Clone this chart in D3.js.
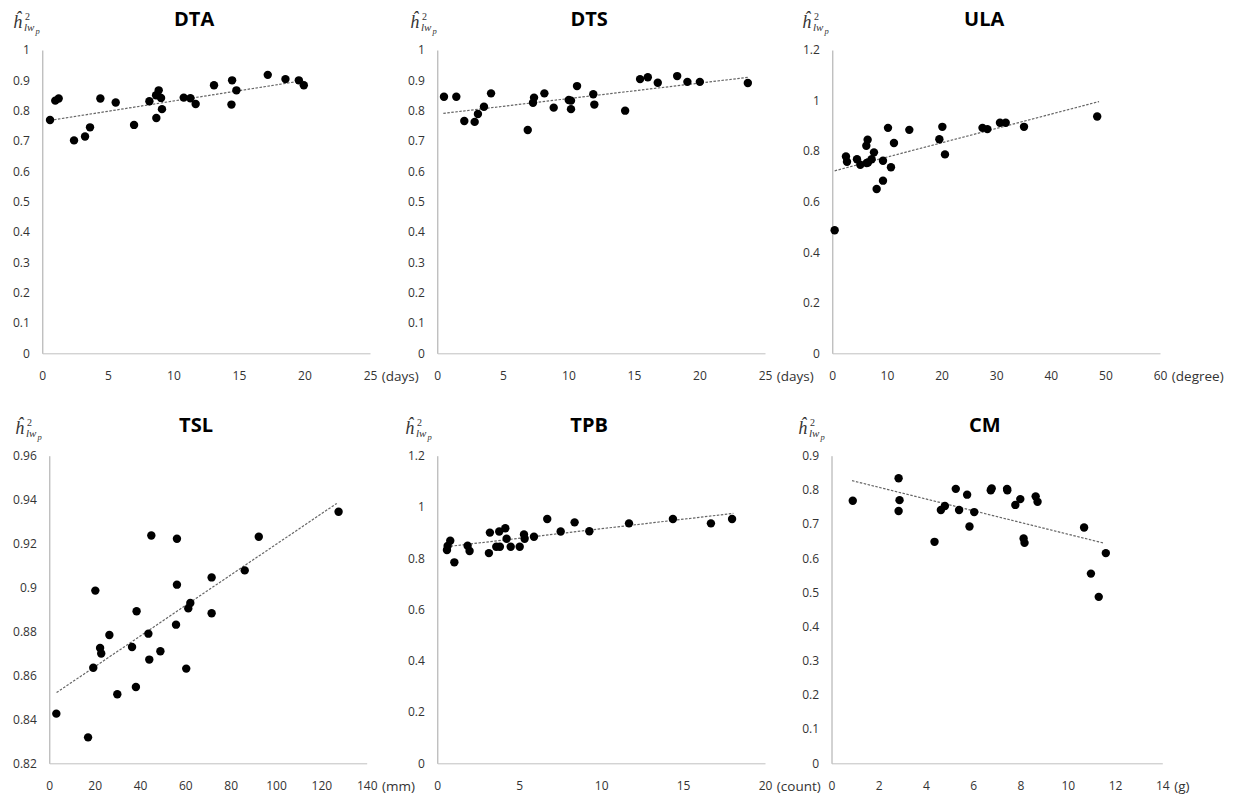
<!DOCTYPE html>
<html>
<head>
<meta charset="utf-8">
<script src="https://cdn.jsdelivr.net/npm/d3@7"></script>
<style>
  html, body { margin: 0; padding: 0; background: #fff; }
  svg { display: block; }
  .tick text { font-family: "Open Sans", "Noto Sans", sans-serif; font-size: 12px; fill: #333; }
  .title { font-family: "Open Sans", "Noto Sans", sans-serif; font-size: 20px; font-weight: bold; fill: #000; }
  .unit { font-family: "Open Sans", "Noto Sans", sans-serif; font-size: 13.5px; fill: #333; }
  .ylab { font-family: "Liberation Serif", "DejaVu Serif", serif; fill: #333; }
</style>
</head>
<body>
<svg id="chart" width="1238" height="799"></svg>
<script>
// ---------------- DATA ----------------
const titles = ["DTA", "DTS", "ULA", "TSL", "TPB", "CM"];
const units = ["(days)", "(days)", "(degree)", "(mm)", "(count)", "(g)"];

const xTicksDTA = [0, 5, 10, 15, 20, 25];
const yTicksDTA = [0, 0.1, 0.2, 0.3, 0.4, 0.5, 0.6, 0.7, 0.8, 0.9, 1];
const dtaX = [0.59, 0.99, 1.25, 2.42, 3.26, 3.64, 4.43, 5.60, 7.00, 8.17, 8.68, 8.88, 9.06, 8.70, 9.13, 10.79, 11.30, 11.70, 13.10, 14.48, 14.43, 14.81, 17.20, 18.55, 19.57, 19.95];
const dtaY = [0.769, 0.833, 0.840, 0.702, 0.715, 0.745, 0.840, 0.827, 0.753, 0.831, 0.851, 0.867, 0.842, 0.776, 0.805, 0.843, 0.841, 0.822, 0.884, 0.900, 0.820, 0.867, 0.918, 0.904, 0.900, 0.884];
const dtaTrend = [[0.59, 0.768], [19.9, 0.899]];

const xTicksDTS = [0, 5, 10, 15, 20, 25];
const yTicksDTS = [0, 0.1, 0.2, 0.3, 0.4, 0.5, 0.6, 0.7, 0.8, 0.9, 1];
const dtsX = [0.51, 1.45, 2.06, 2.85, 3.10, 3.56, 4.10, 6.90, 7.30, 7.38, 8.17, 8.88, 10.03, 10.20, 10.20, 10.66, 11.90, 11.98, 14.33, 15.47, 16.06, 16.82, 18.30, 19.08, 20.03, 23.69];
const dtsY = [0.846, 0.846, 0.766, 0.763, 0.789, 0.813, 0.857, 0.736, 0.826, 0.843, 0.857, 0.810, 0.835, 0.833, 0.805, 0.881, 0.854, 0.820, 0.800, 0.904, 0.910, 0.892, 0.914, 0.895, 0.895, 0.891];
const dtsTrend = [[0.46, 0.791], [23.74, 0.910]];

const xTicksULA = [0, 10, 20, 30, 40, 50, 60];
const yTicksULA = [0, 0.2, 0.4, 0.6, 0.8, 1, 1.2];
const ulaX = [0.43, 2.5, 2.69, 4.52, 5.13, 6.29, 6.23, 6.47, 6.53, 7.2, 7.63, 8.12, 9.28, 9.28, 10.2, 10.74, 11.29, 14.1, 19.6, 20.15, 20.63, 27.5, 28.4, 30.7, 31.75, 35.1, 48.5];
const ulaY = [0.487, 0.779, 0.758, 0.768, 0.746, 0.753, 0.821, 0.845, 0.755, 0.768, 0.795, 0.650, 0.683, 0.762, 0.892, 0.736, 0.832, 0.884, 0.847, 0.896, 0.787, 0.892, 0.887, 0.912, 0.912, 0.896, 0.937];
const ulaTrend = [[0.43, 0.722], [48.84, 0.996]];

const xTicksTSL = [0, 20, 40, 60, 80, 100, 120, 140];
const yTicksTSL = [0.82, 0.84, 0.86, 0.88, 0.9, 0.92, 0.94, 0.96];
const tslX = [3.1, 17.1, 19.4, 20.3, 22.4, 22.9, 26.5, 30.0, 36.5, 38.2, 38.5, 43.7, 44.1, 45.0, 49.0, 55.9, 56.3, 56.3, 60.4, 61.3, 62.2, 71.6, 71.6, 86.2, 92.4, 127.6];
const tslY = [0.8426, 0.8318, 0.8635, 0.8986, 0.8725, 0.8700, 0.8784, 0.8514, 0.8729, 0.8547, 0.8892, 0.8790, 0.8672, 0.9237, 0.8710, 0.8831, 0.9222, 0.9013, 0.8631, 0.8905, 0.8930, 0.9046, 0.8883, 0.9078, 0.9231, 0.9345];
const tslTrend = [[3.2, 0.8522], [126.8, 0.9383]];

const xTicksTPB = [0, 5, 10, 15, 20];
const yTicksTPB = [0, 0.2, 0.4, 0.6, 0.8, 1, 1.2];
const tpbX = [0.59, 0.63, 0.79, 1.04, 1.85, 1.97, 3.15, 3.21, 3.60, 3.78, 3.82, 4.15, 4.23, 4.48, 5.03, 5.29, 5.33, 5.90, 6.71, 7.53, 8.38, 9.28, 11.70, 14.38, 16.70, 17.99];
const tpbY = [0.832, 0.848, 0.868, 0.784, 0.849, 0.828, 0.820, 0.900, 0.845, 0.904, 0.845, 0.917, 0.876, 0.845, 0.845, 0.893, 0.876, 0.884, 0.953, 0.904, 0.940, 0.905, 0.936, 0.953, 0.936, 0.953];
const tpbTrend = [[0.57, 0.845], [18.07, 0.975]];

const xTicksCM = [0, 2, 4, 6, 8, 10, 12, 14];
const yTicksCM = [0, 0.1, 0.2, 0.3, 0.4, 0.5, 0.6, 0.7, 0.8, 0.9];
const cmX = [0.90, 2.84, 2.88, 2.84, 4.36, 4.63, 4.80, 5.26, 5.40, 5.74, 5.84, 6.04, 6.74, 6.78, 7.43, 7.44, 7.78, 7.99, 8.13, 8.17, 8.64, 8.72, 10.69, 10.98, 11.31, 11.61];
const cmY = [0.768, 0.834, 0.770, 0.738, 0.648, 0.741, 0.753, 0.803, 0.741, 0.786, 0.693, 0.735, 0.799, 0.804, 0.803, 0.799, 0.756, 0.773, 0.658, 0.645, 0.781, 0.765, 0.690, 0.555, 0.487, 0.615];
const cmTrend = [[0.87, 0.827], [11.54, 0.644]];

// ---------------- LAYOUT ----------------
const panels = [
  { xs: dtaX, ys: dtaY, tr: dtaTrend, xt: xTicksDTA, yt: yTicksDTA, xr: [42.3, 370], yr: [353.3, 50], tb: 26, ylx: 13 },
  { xs: dtsX, ys: dtsY, tr: dtsTrend, xt: xTicksDTS, yt: yTicksDTS, xr: [437.3, 765], yr: [353.3, 50], tb: 26, ylx: 410 },
  { xs: ulaX, ys: ulaY, tr: ulaTrend, xt: xTicksULA, yt: yTicksULA, xr: [832.3, 1160], yr: [353.3, 50], tb: 26, ylx: 802 },
  { xs: tslX, ys: tslY, tr: tslTrend, xt: xTicksTSL, yt: yTicksTSL, xr: [49.3, 366.7], yr: [763.3, 455.7], tb: 432, ylx: 15 },
  { xs: tpbX, ys: tpbY, tr: tpbTrend, xt: xTicksTPB, yt: yTicksTPB, xr: [437.3, 765], yr: [763.3, 455.7], tb: 432, ylx: 405 },
  { xs: cmX, ys: cmY, tr: cmTrend, xt: xTicksCM, yt: yTicksCM, xr: [831.5, 1162.3], yr: [763.3, 455.7], tb: 432, ylx: 798 }
];

const svg = d3.select("#chart");
const fmt = v => String(+v.toFixed(2));

panels.forEach((p, i) => {
  const x = d3.scaleLinear().domain([p.xt[0], p.xt[p.xt.length - 1]]).range(p.xr);
  const y = d3.scaleLinear().domain([p.yt[0], p.yt[p.yt.length - 1]]).range(p.yr);
  const g = svg.append("g");

  // y axis
  const ya = g.append("g").attr("transform", `translate(${p.xr[0]},0)`)
    .call(d3.axisLeft(y).tickValues(p.yt).tickFormat(fmt).tickSize(0).tickSizeOuter(0).tickPadding(12.5));
  ya.select(".domain").attr("stroke", "#a6a6a6").attr("stroke-width", 1);
  ya.selectAll(".tick text").attr("font-family", null).attr("font-size", null);

  // x axis
  const xa = g.append("g").attr("transform", `translate(0,${p.yr[0]})`)
    .call(d3.axisBottom(x).tickValues(p.xt).tickFormat(fmt).tickSize(0).tickSizeOuter(0).tickPadding(18));
  xa.select(".domain").attr("stroke", "#c0c0c0").attr("stroke-width", 1);
  xa.selectAll(".tick text").attr("font-family", null).attr("font-size", null);

  // unit label after last tick
  const lastText = xa.selectAll(".tick text").nodes().pop();
  const lw = lastText.getComputedTextLength();
  g.append("text").attr("class", "unit")
    .attr("x", x(p.xt[p.xt.length - 1]) + lw / 2 + 5)
    .attr("y", p.yr[0] + 27.5)
    .text(units[i]);

  // title
  g.append("text").attr("class", "title")
    .attr("x", (p.xr[0] + p.xr[1]) / 2 - 12)
    .attr("y", p.tb)
    .attr("text-anchor", "middle")
    .text(titles[i]);

  // y label  ĥ²_{lw_p}
  const bx = p.ylx, by = p.tb + 2;
  const yl = g.append("g").attr("class", "ylab");
  yl.append("text").attr("x", bx).attr("y", by).attr("font-size", 18).attr("font-style", "italic").text("ĥ");
  yl.append("text").attr("x", bx + 12).attr("y", by - 8).attr("font-size", 10).text("2");
  yl.append("text").attr("x", bx + 11).attr("y", by + 3).attr("font-size", 11).attr("font-style", "italic").text("lw");
  yl.append("text").attr("x", bx + 22.5).attr("y", by + 5.5).attr("font-size", 8.5).attr("font-style", "italic").text("p");

  // trend line
  g.append("path")
    .datum(p.tr)
    .attr("d", d3.line().x(d => x(d[0])).y(d => y(d[1])))
    .attr("fill", "none")
    .attr("stroke", "#666")
    .attr("stroke-width", 1.2)
    .attr("stroke-dasharray", "2.5,1.5");

  // points
  g.selectAll("circle.pt")
    .data(d3.zip(p.xs, p.ys))
    .join("circle")
    .attr("class", "pt")
    .attr("cx", d => x(d[0]))
    .attr("cy", d => y(d[1]))
    .attr("r", 4.2)
    .attr("fill", "#000");
});
</script>
</body>
</html>
